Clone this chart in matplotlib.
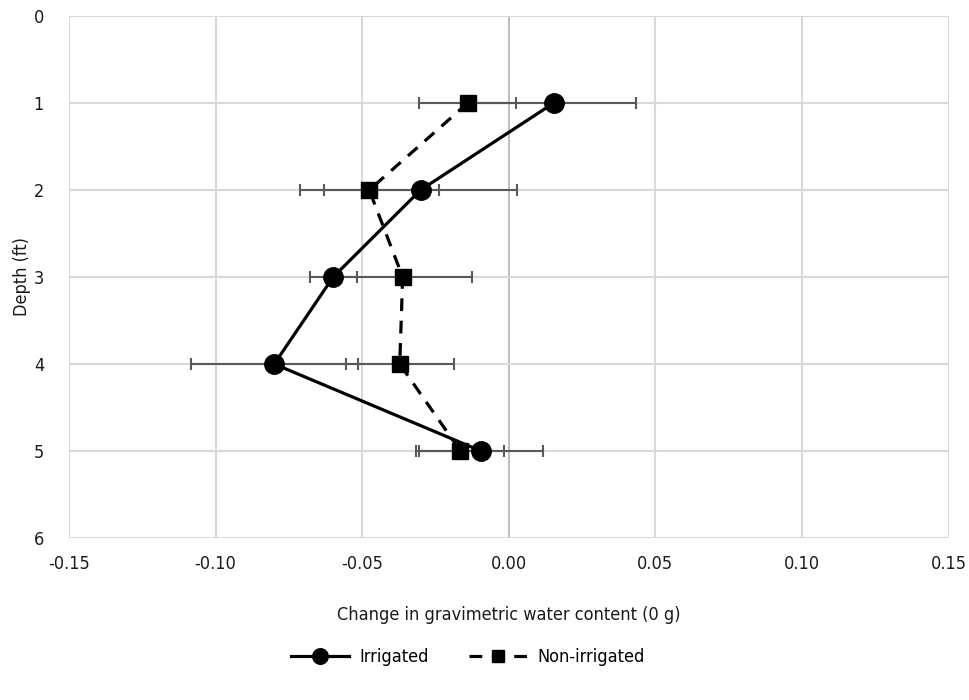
import matplotlib.pyplot as plt

plt.rcParams['font.family'] = ['DejaVu Sans']
plt.rcParams['font.stretch'] = 'condensed'

# data
depth = [1, 2, 3, 4, 5]
irrigated = [0.0153, -0.0301, -0.0599, -0.0800, -0.0095]
irrigated_err = [0.0282, 0.0330, 0.0080, 0.0284, 0.0210]
non_irrigated = [-0.0140, -0.0476, -0.0362, -0.0372, -0.0165]
non_irrigated_err = [0.0165, 0.0237, 0.0237, 0.0184, 0.0150]

xticks = [-0.15, -0.10, -0.05, 0.00, 0.05, 0.10, 0.15]
yticks = [0, 1, 2, 3, 4, 5, 6]

fig = plt.figure(figsize=(9.69, 7), dpi=100)
ax = fig.add_axes([0.0712, 0.2314, 0.9078, 0.7457])

# grid lines
for x in xticks:
    ax.axvline(x, color='#bfbfbf' if x == 0 else '#d9d9d9', lw=1.5, zorder=0)
for y in yticks:
    ax.axhline(y, color='#d9d9d9', lw=1.5, zorder=0)

ax.errorbar(irrigated, depth, xerr=irrigated_err, fmt='none', ecolor='#595959',
            elinewidth=1.5, capsize=4, capthick=1.5, zorder=2)
ax.errorbar(non_irrigated, depth, xerr=non_irrigated_err, fmt='none', ecolor='#595959',
            elinewidth=1.5, capsize=4, capthick=1.5, zorder=2)

ax.plot(irrigated, depth, color='black', lw=2.3, marker='o', markersize=14,
        label='Irrigated', zorder=3)
ax.plot(non_irrigated, depth, color='black', lw=2.3, ls=(0, (4, 3)), marker='s',
        markersize=11.5, label='Non-irrigated', zorder=4)

ax.set_xlim(-0.15, 0.15)
ax.set_ylim(6, 0)
ax.set_xticks(xticks)
ax.set_xticklabels(['-0.15', '-0.10', '-0.05', '0.00', '0.05', '0.10', '0.15'])
ax.set_yticks(yticks)
ax.tick_params(length=0, labelsize=13, colors='#1a1a1a', pad=12)
ax.tick_params(axis='y', pad=18)
for s in ax.spines.values():
    s.set_visible(False)

ax.set_xlabel('Change in gravimetric water content (0 g)', fontsize=13, color='#1a1a1a',
              labelpad=24)
ax.set_ylabel('Depth (ft)', fontsize=13, color='#1a1a1a', labelpad=2)

fig.legend(loc='center', bbox_to_anchor=(0.483, 0.061), ncol=2, frameon=False,
           fontsize=13, handlelength=3.2, handletextpad=0.6, columnspacing=2.2,
           markerscale=0.8)

fig.savefig('out.png', dpi=100)
